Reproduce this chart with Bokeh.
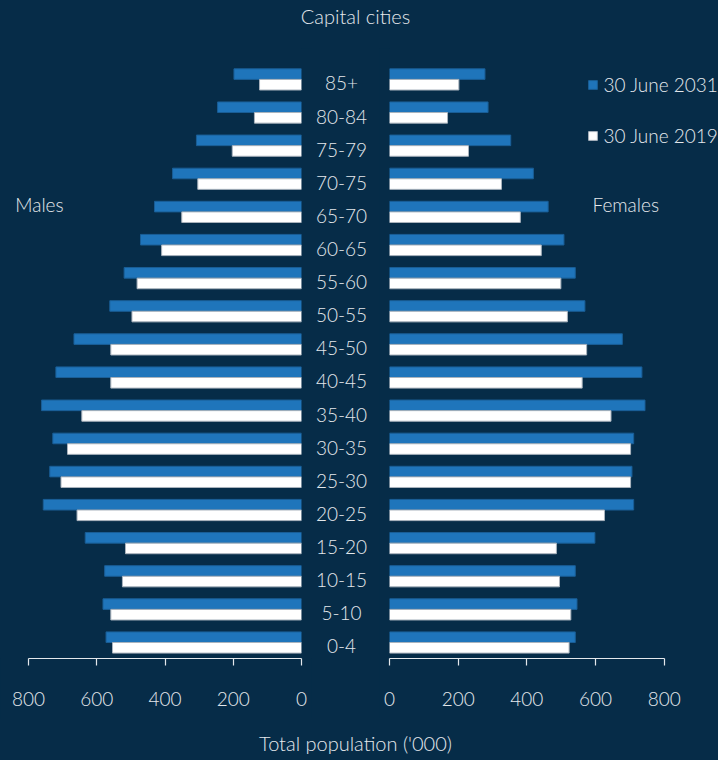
from bokeh.plotting import figure
from bokeh.models import Range1d, ColumnDataSource, FixedTicker, Legend, LegendItem, Label
from bokeh.layouts import column, row
from bokeh.transform import dodge
from bokeh.core.properties import value
from bokeh.embed import file_html
from bokeh.resources import INLINE

# ---------------- data ('000 persons) ----------------
age_groups = ["0-4", "5-10", "10-15", "15-20", "20-25", "25-30", "30-35", "35-40",
              "40-45", "45-50", "50-55", "55-60", "60-65", "65-70", "70-75", "75-79",
              "80-84", "85+"]
males_2031 = [573, 582, 577, 634, 757, 738, 729, 762, 720, 667, 562, 520, 472, 431, 378, 308, 246, 198]
males_2019 = [554, 559, 525, 516, 658, 705, 686, 644, 559, 559, 497, 482, 410, 351, 304, 203, 138, 123]
females_2031 = [541, 546, 541, 598, 711, 706, 711, 744, 735, 678, 569, 541, 508, 462, 419, 353, 287, 278]
females_2019 = [523, 528, 495, 486, 626, 702, 702, 645, 561, 574, 518, 499, 442, 381, 326, 230, 169, 202]
series_labels = ["30 June 2031", "30 June 2019"]
x_ticks = [0, 200, 400, 600, 800]
title_text = "Capital cities"
x_title = "Total population ('000)"
side_labels = ["Males", "Females"]

# ---------------- style ----------------
BG = "#062c48"
BLUE = "#1f75bb"
BLUE_EDGE = "#1a5e96"
WHITE = "#ffffff"
WHITE_EDGE = "#a9b3bd"
TXT = "#e4e8ec"
FONT_NAME = "Lato Light"
FONT = value(FONT_NAME)

src = ColumnDataSource(dict(
    age=age_groups,
    idx=list(range(len(age_groups))),
    m31=males_2031, m19=males_2019,
    f31=females_2031, f19=females_2019,
))

y_rng = Range1d(-0.483, 17.933)


def base_fig(width, height, x_range, y_range, with_axis=False):
    p = figure(width=width, height=height, x_range=x_range, y_range=y_range,
               output_backend="svg", toolbar_location=None,
               x_axis_location="below" if with_axis else None,
               y_axis_location=None, min_border=0)
    p.background_fill_color = BG
    p.border_fill_color = BG
    p.outline_line_color = None
    p.xgrid.visible = False
    p.ygrid.visible = False
    return p


def style_axis(p):
    ax = p.xaxis[0]
    ax.ticker = FixedTicker(ticks=x_ticks)
    ax.bounds = (x_ticks[0], x_ticks[-1])
    ax.axis_line_color = TXT
    ax.axis_line_width = 1.2
    ax.major_tick_line_color = TXT
    ax.major_tick_line_width = 1.2
    ax.major_tick_out = 7
    ax.major_tick_in = 0
    ax.minor_tick_line_color = None
    ax.major_label_standoff = 26
    ax.major_label_text_color = TXT
    ax.major_label_text_font = FONT_NAME
    ax.major_label_text_font_size = "19px"


# ---------------- title ----------------
tfig = base_fig(718, 48, Range1d(0, 718), Range1d(0, 48))
tfig.add_layout(Label(x=355, y=33, text=title_text, text_align="center",
                      text_baseline="middle", text_color=TXT, text_font=FONT_NAME,
                      text_font_size="20px"))

# ---------------- males ----------------
left = base_fig(311, 670, Range1d(882.4, 0), y_rng, with_axis=True)
left.min_border_right = 10
left.min_border_bottom = 60
left.hbar(y=dodge("idx", 0.16, range=y_rng), height=0.32, left=0, right="m31", source=src,
          fill_color=BLUE, line_color=BLUE_EDGE, line_width=1)
left.hbar(y=dodge("idx", -0.16, range=y_rng), height=0.32, left=0, right="m19", source=src,
          fill_color=WHITE, line_color=WHITE_EDGE, line_width=1)
style_axis(left)
left.add_layout(Label(x=839, y=13.22, text=side_labels[0], text_align="left",
                      text_baseline="middle", text_color=TXT, text_font=FONT_NAME,
                      text_font_size="19px"))

# ---------------- age labels ----------------
mid = base_fig(68, 670, Range1d(0, 68), y_rng)
mid.min_border_bottom = 60
mid.text(x=30, y=dodge("idx", -0.12, range=y_rng), text="age", source=src,
         text_align="center", text_baseline="middle", text_color=TXT,
         text_font=FONT, text_font_size=value("19px"))

# ---------------- females ----------------
right = base_fig(339, 670, Range1d(0, 958), y_rng, with_axis=True)
right.min_border_left = 10
right.min_border_bottom = 60
r31 = right.hbar(y=dodge("idx", 0.16, range=y_rng), height=0.32, left=0, right="f31", source=src,
                 fill_color=BLUE, line_color=BLUE_EDGE, line_width=1)
r19 = right.hbar(y=dodge("idx", -0.16, range=y_rng), height=0.32, left=0, right="f19", source=src,
                 fill_color=WHITE, line_color=WHITE_EDGE, line_width=1)
style_axis(right)
right.add_layout(Label(x=591, y=13.22, text=side_labels[1], text_align="left",
                       text_baseline="middle", text_color=TXT, text_font=FONT_NAME,
                       text_font_size="19px"))

legend = Legend(items=[LegendItem(label=series_labels[0], renderers=[r31]),
                       LegendItem(label=series_labels[1], renderers=[r19])],
                location=(197.6, 511.3), orientation="vertical",
                background_fill_alpha=0, border_line_color=None,
                padding=0, margin=0, spacing=28,
                glyph_width=11, glyph_height=11, label_standoff=6,
                label_height=20, label_text_color=TXT, label_text_font=FONT_NAME,
                label_text_font_size="19px")
right.add_layout(legend)

# ---------------- x-axis title ----------------
bfig = base_fig(718, 42, Range1d(0, 718), Range1d(0, 42))
bfig.add_layout(Label(x=355, y=18, text=x_title, text_align="center",
                      text_baseline="middle", text_color=TXT, text_font=FONT_NAME,
                      text_font_size="20px"))

layout = column(tfig, row(left, mid, right), bfig)

html = file_html(layout, INLINE, title=title_text)
html = html.replace("</head>",
                    "<style>html,body{margin:0;padding:0;background:%s;overflow:hidden;}</style></head>" % BG, 1)
open("out.html", "w").write(html)
